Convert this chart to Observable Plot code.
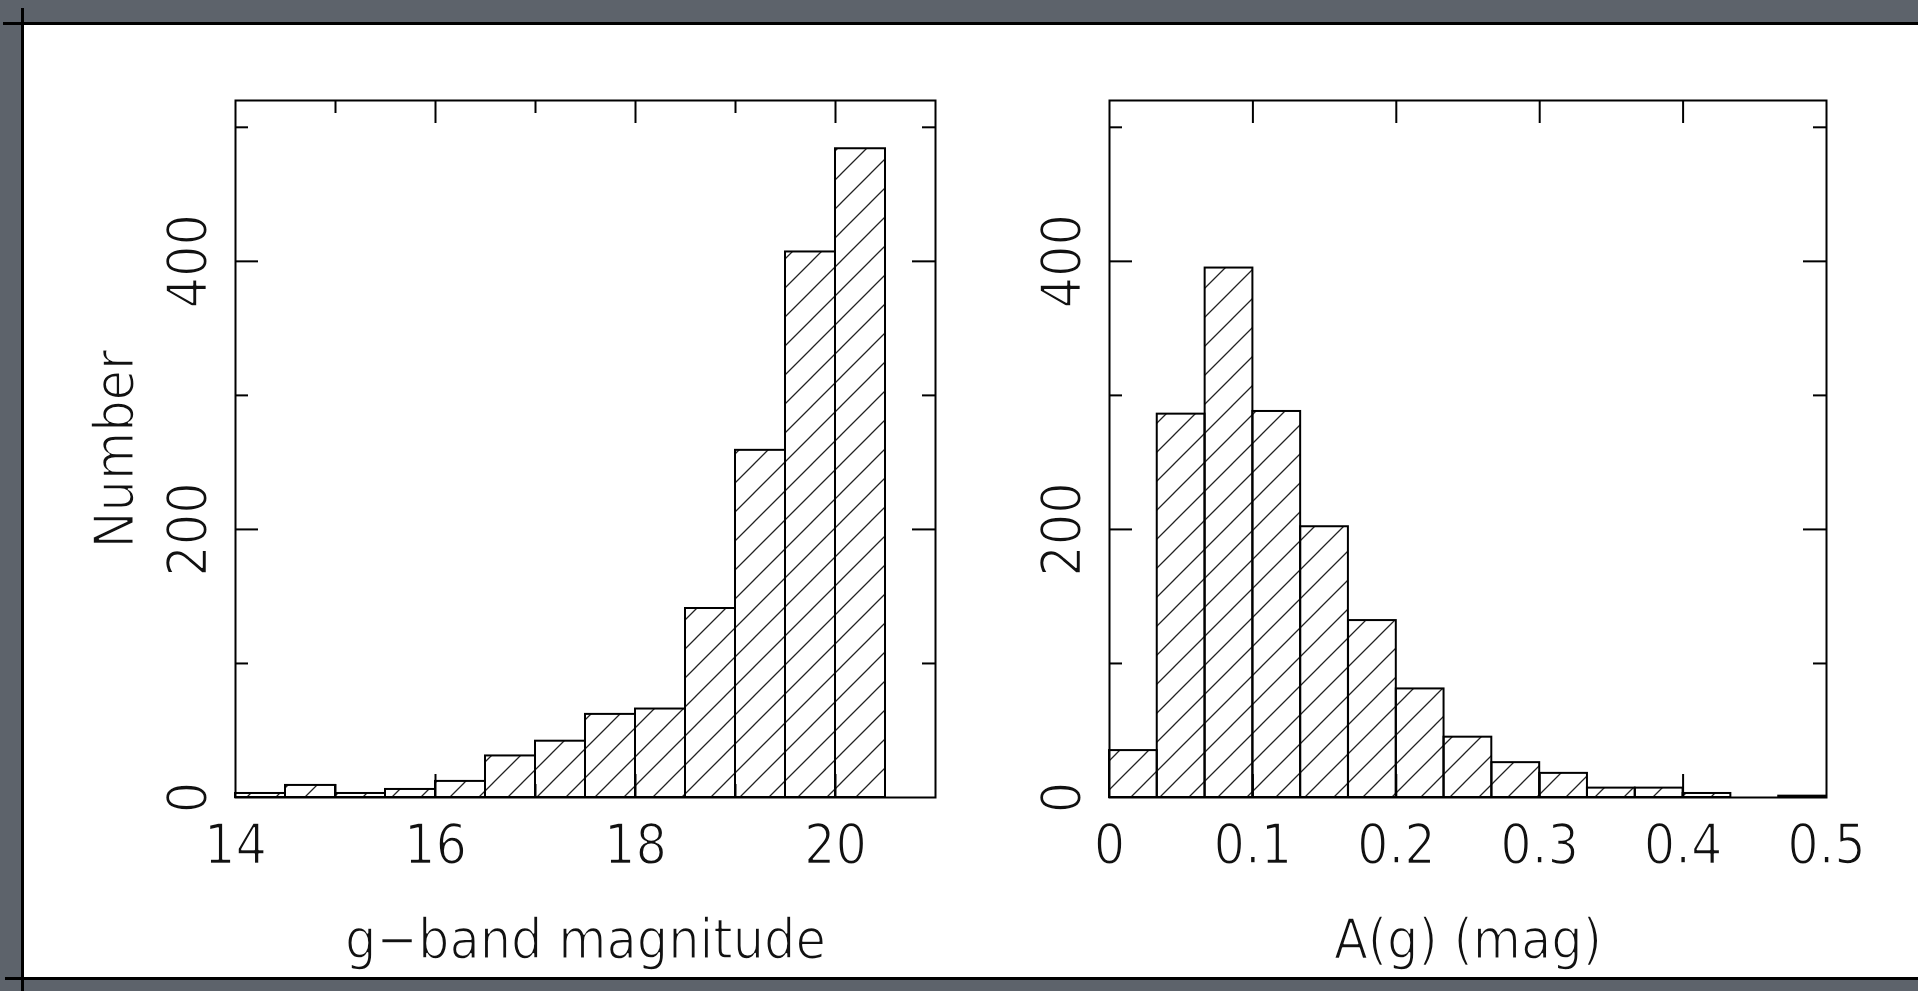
<!DOCTYPE html>
<html><head><meta charset="utf-8">
<script src="https://cdn.jsdelivr.net/npm/d3@7"></script>
<script src="https://cdn.jsdelivr.net/npm/@observablehq/plot@0.6"></script>
<style>
html,body{margin:0;padding:0;overflow:hidden;}
body{width:1918px;height:991px;background:#5d636b;position:relative;}
#page{position:absolute;left:23px;top:24px;width:1895px;height:955px;background:#fff;}
.ln{position:absolute;background:#000;}
.panel{position:absolute;top:0;}
</style></head><body>
<div id="page"></div>
<div class="ln" style="left:3px;top:22px;width:1915px;height:3px"></div>
<div class="ln" style="left:21px;top:8px;width:3px;height:983px"></div>
<div class="ln" style="left:5px;top:977px;width:1913px;height:3px"></div>
<div id="left" class="panel" style="left:0px"></div>
<div id="right" class="panel" style="left:1000px"></div>
<script>
// ---- data: g-band magnitude histogram (bin lower edges, counts)
const gBinLow = [14, 14.5, 15, 15.5, 16, 16.5, 17, 17.5, 18, 18.5, 19, 19.5, 20];
const gBinWidth = 0.5;
const gCount = [3, 9, 3, 6, 12, 31, 42, 62, 66, 141, 259, 407, 484];
const gTickLabels = [14, 16, 18, 20];
const gMajorTicks = [16, 18, 20];
const gMinorTicks = [15, 17, 19];

// ---- data: A(g) extinction histogram
const aBinLow = [0, 0.0333, 0.0667, 0.1, 0.1333, 0.1667, 0.2, 0.2333, 0.2667, 0.3, 0.3333, 0.3667, 0.4, 0.4333, 0.4667];
const aBinWidth = 0.0333;
const aCount = [35, 286, 395, 288, 202, 132, 81, 45, 26, 18, 7, 7, 3, 0, 1];
const aTickLabels = [0, 0.1, 0.2, 0.3, 0.4, 0.5];
const aMajorTicks = [0.1, 0.2, 0.3, 0.4];
const aMinorTicks = [];

// ---- shared y axis
const yTickLabels = [0, 200, 400];
const yMajorTicks = [200, 400];
const yMinorTicks = [100, 300, 500];
const yDomain = [0, 520];

const FONT = '"Liberation Sans Narrow", "DejaVu Sans Condensed", "Liberation Sans", sans-serif';
// thin the glyph strokes a little (the original uses a thin stroke font)
const thin = {fill: "#111", stroke: "white", strokeWidth: 1.6, paintOrder: "normal"};

function panel(o) {
  const H = 991, mT = 100, mB = 194;
  const frameH = H - mT - mB;
  const frameW = o.W - o.mL - o.mR;
  const rows = o.low.map((x, i) => ({x1: x, x2: x + o.width, n: o.count[i]}));
  const tk = {stroke: "#000", strokeWidth: 2};
  const chart = Plot.plot({
    width: o.W, height: H,
    marginLeft: o.mL, marginRight: o.mR, marginTop: mT, marginBottom: mB,
    x: {domain: o.xDomain, axis: null},
    y: {domain: yDomain, axis: null},
    style: {background: "transparent", overflow: "visible", fontFamily: FONT, fontSize: "55px", color: "#111"},
    marks: [
      Plot.rect(rows, {x1: "x1", x2: "x2", y1: 0, y2: "n", fill: `url(#${o.id}-hatch)`, stroke: "#000", strokeWidth: 2}),
      Plot.tickX(o.major, {x: d => d, insetTop: frameH - 23, ...tk}),
      Plot.tickX(o.major, {x: d => d, insetBottom: frameH - 23, ...tk}),
      Plot.tickX(o.minor, {x: d => d, insetTop: frameH - 13, ...tk}),
      Plot.tickX(o.minor, {x: d => d, insetBottom: frameH - 13, ...tk}),
      Plot.tickY(yMajorTicks, {y: d => d, insetRight: frameW - 23, ...tk}),
      Plot.tickY(yMajorTicks, {y: d => d, insetLeft: frameW - 23, ...tk}),
      Plot.tickY(yMinorTicks, {y: d => d, insetRight: frameW - 13, ...tk}),
      Plot.tickY(yMinorTicks, {y: d => d, insetLeft: frameW - 13, ...tk}),
      Plot.frame({stroke: "#000", strokeWidth: 2}),
      Plot.text(o.labels, {x: d => d, frameAnchor: "bottom", dy: 65, lineAnchor: "bottom", textAnchor: "middle", text: d => String(d), ...thin}),
      Plot.text(yTickLabels, {y: d => d, frameAnchor: "left", dx: o.yLabDx, lineAnchor: "bottom", textAnchor: "middle", rotate: -90, text: d => String(d), ...thin}),
      Plot.text([o.xTitle], {frameAnchor: "bottom", dy: 160, lineAnchor: "bottom", textAnchor: "middle", text: d => d, ...thin}),
      o.yTitle ? Plot.text([o.yTitle], {frameAnchor: "left", dx: -103, lineAnchor: "bottom", textAnchor: "middle", rotate: -90, text: d => d, ...thin}) : null
    ]
  });
  const svg = d3.select(chart);
  const defs = svg.insert("defs", ":first-child");
  const p = defs.append("pattern").attr("id", `${o.id}-hatch`)
    .attr("patternUnits", "userSpaceOnUse").attr("width", 29).attr("height", 29);
  p.append("path").attr("d", "M-2,2 L2,-2 M0,29 L29,0 M27,31 L31,27")
    .attr("stroke", "#222").attr("stroke-width", 1.3).attr("fill", "none");
  document.getElementById(o.id).appendChild(chart);
}

panel({id: "left", W: 1000, mL: 235, mR: 65, low: gBinLow, width: gBinWidth, count: gCount,
  xDomain: [14, 21], major: gMajorTicks, minor: gMinorTicks, labels: gTickLabels,
  xTitle: "g\u2212band magnitude", yTitle: "Number", yLabDx: -30});
panel({id: "right", W: 918, mL: 109, mR: 92, low: aBinLow, width: aBinWidth, count: aCount,
  xDomain: [0, 0.5], major: aMajorTicks, minor: aMinorTicks, labels: aTickLabels,
  xTitle: "A(g) (mag)", yTitle: null, yLabDx: -30});
</script>
</body></html>
